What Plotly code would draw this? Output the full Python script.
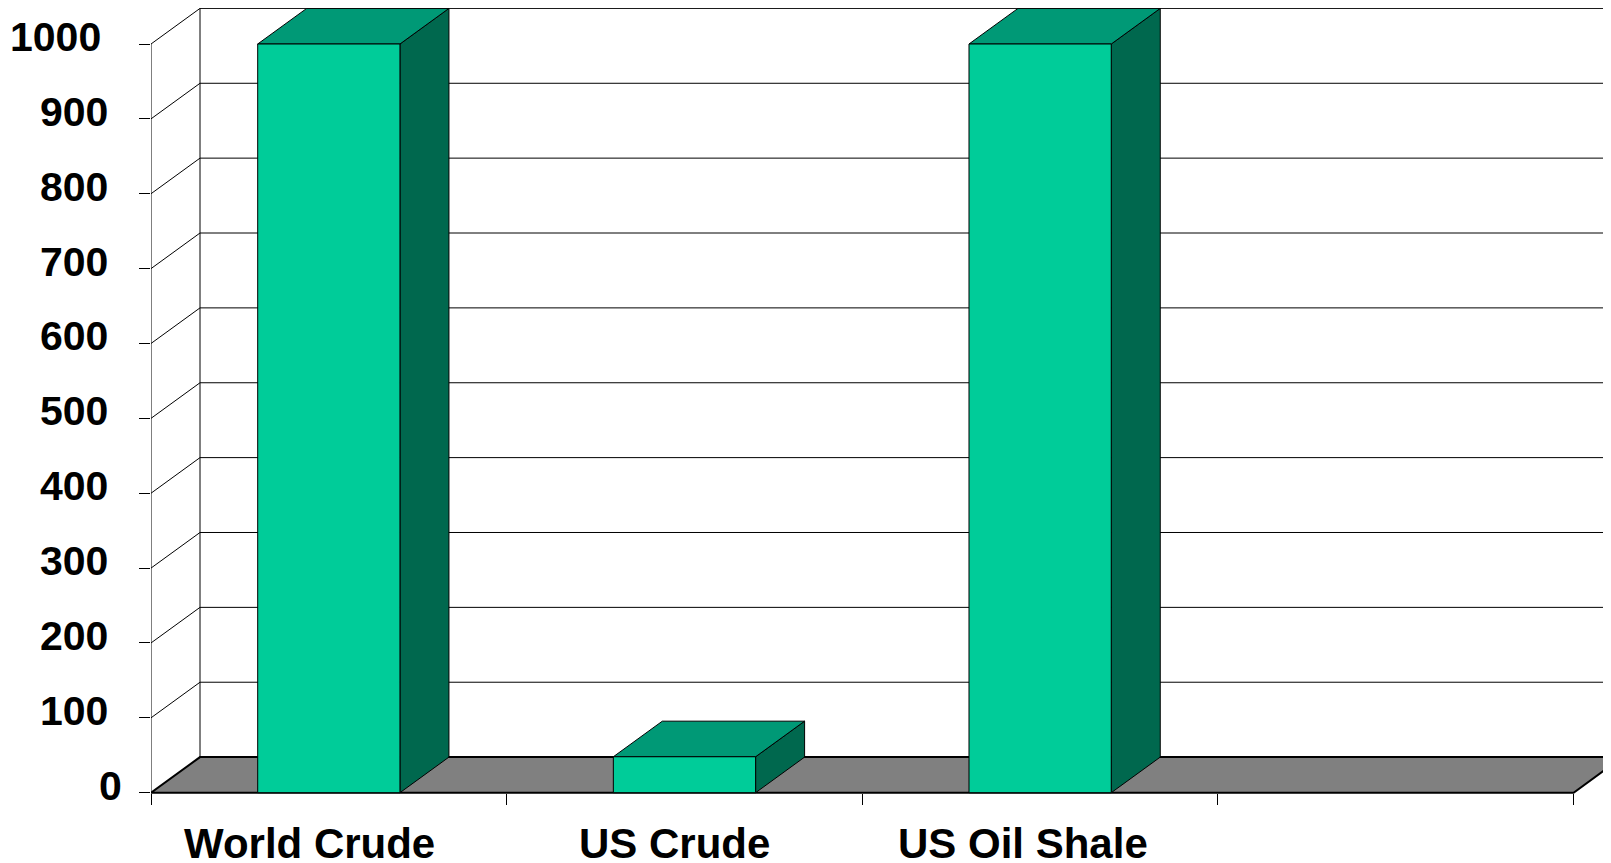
import plotly.graph_objects as go

# ---- data ----
categories = ["World Crude", "US Crude", "US Oil Shale", ""]
values = [1000, 48, 1000, None]
y_ticks = [0, 100, 200, 300, 400, 500, 600, 700, 800, 900, 1000]
y_tick_labels = [str(v) for v in y_ticks]

# ---- layout constants (pixels) ----
PAGE_OFF = 8                 # browser body margin
W, H = 1611 - PAGE_OFF, 863 - PAGE_OFF
ML = 151 - PAGE_OFF
PX_PER_CAT = 355.65
PX_PER_VAL = 0.7487
ZERO_PX = 792.7 - PAGE_OFF
DEPTH_X_PX = 49
DEPTH_Y_PX = 35.6
DX = DEPTH_X_PX / PX_PER_CAT
DY = DEPTH_Y_PX / PX_PER_VAL
BAR_LO, BAR_HI = 0.3, 0.7
n = len(categories)
y_top = max(y_ticks)
# small per-label horizontal nudges (pixels)
YLAB_NUDGE = {1000: -6.5, 0: 14.5}
XLAB_SHIFT = [-19, -10, -17, 0]

FRONT = "#00CC99"
TOP = "#009976"
SIDE = "#00684E"
FLOOR = "#808080"
EDGE = "#000000"
FONT = "Liberation Sans, Arial, sans-serif"

fig = go.Figure()

# floor
fig.add_trace(go.Scatter(
    x=[0, n, n + DX, DX, 0], y=[0, 0, DY, DY, 0],
    mode="lines", fill="toself", fillcolor=FLOOR,
    line=dict(color=EDGE, width=2), hoverinfo="skip"))

# walls: back gridlines, back wall left edge, side wall diagonals, front axis
gx, gy = [], []
for v in y_ticks[1:]:
    gx += [DX, n + DX, None]
    gy += [v + DY, v + DY, None]
    gx += [0, DX, None]
    gy += [v, v + DY, None]
gx += [DX, DX, None, 0, 0]
gy += [DY, y_top + DY, None, 0, y_top]
fig.add_trace(go.Scatter(x=gx, y=gy, mode="lines",
                         line=dict(color=EDGE, width=1), hoverinfo="skip"))

# bars
for i, h in enumerate(values):
    if h is None:
        continue
    x0, x1 = i + BAR_LO, i + BAR_HI
    faces = [
        ([x1, x1 + DX, x1 + DX, x1, x1], [0, DY, h + DY, h, 0], SIDE),
        ([x0, x1, x1 + DX, x0 + DX, x0], [h, h, h + DY, h + DY, h], TOP),
        ([x0, x1, x1, x0, x0], [0, 0, h, h, 0], FRONT),
    ]
    for fx, fy, col in faces:
        fig.add_trace(go.Scatter(x=fx, y=fy, mode="lines", fill="toself",
                                 fillcolor=col, line=dict(color=EDGE, width=1),
                                 hoverinfo="skip"))

# category labels
for i, c in enumerate(categories):
    if c:
        fig.add_annotation(x=i + 0.5, y=0, xref="x", yref="y", text=c,
                           showarrow=False, yanchor="top", xanchor="center",
                           xshift=XLAB_SHIFT[i], yshift=-25,
                           font=dict(family=FONT, size=42, color="#000", weight="bold"))

# value-axis labels
for v, t in zip(y_ticks, y_tick_labels):
    fig.add_annotation(x=0, y=v, xref="x", yref="y", text=t,
                       showarrow=False, yanchor="middle", xanchor="right",
                       xshift=-41.5 + YLAB_NUDGE.get(v, 0), yshift=7,
                       font=dict(family=FONT, size=41, color="#000", weight="bold"))

fig.update_layout(
    width=W, height=H,
    margin=dict(l=ML, r=0, t=0, b=0),
    paper_bgcolor="white", plot_bgcolor="white",
    showlegend=False, hovermode=False,
    xaxis=dict(range=[0, (W - ML) / PX_PER_CAT], showgrid=False, zeroline=False,
               showline=False, tickvals=list(range(n + 1)), showticklabels=False,
               ticks="outside", ticklen=11, tickwidth=1, tickcolor=EDGE,
               anchor="free", position=(H - ZERO_PX) / H),
    yaxis=dict(range=[-(H - ZERO_PX) / PX_PER_VAL, ZERO_PX / PX_PER_VAL],
               showgrid=False, zeroline=False, showline=False,
               tickvals=y_ticks, showticklabels=False,
               ticks="outside", ticklen=11, tickwidth=1, tickcolor=EDGE),
)

fig.write_html("out.html")
